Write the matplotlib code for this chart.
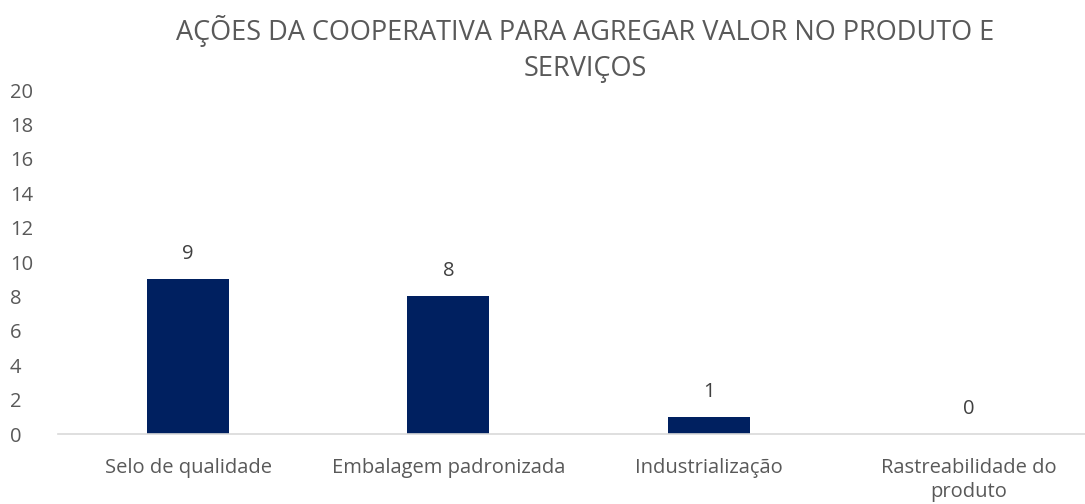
import matplotlib.pyplot as plt
import numpy as np

plt.rcParams['font.family'] = ['Open Sans', 'DejaVu Sans']

# data
categories = ['Selo de qualidade', 'Embalagem padronizada', 'Industrialização',
              'Rastreabilidade do\nproduto']
values = [9, 8, 1, 0]
title = 'AÇÕES DA COOPERATIVA PARA AGREGAR VALOR NO PRODUTO E\nSERVIÇOS'

gray = '#595959'
navy = '#002060'

fig = plt.figure(figsize=(10.85, 5.04), dpi=100)
ax = fig.add_axes([58 / 1085, 70 / 504, 1041 / 1085, 344 / 504])

x = np.arange(len(categories))
bars = ax.bar(x, values, width=0.315, color=navy, zorder=2)

for xi, v in zip(x, values):
    ax.annotate(str(v), (xi, v), xytext=(0, 11), textcoords='offset points',
                ha='center', va='bottom', fontsize=14.5, color='#404040')

ax.set_xlim(-0.5, len(categories) - 0.5)
ax.set_ylim(0, 20)
ax.set_yticks(range(0, 21, 2))
ax.set_xticks(x)
ax.set_xticklabels(categories, fontsize=14.5, color=gray, linespacing=1.3)
ax.tick_params(axis='y', labelsize=14.5, labelcolor=gray, length=0, pad=34.5)
ax.tick_params(axis='x', length=0, pad=17)

for s in ['top', 'right', 'left']:
    ax.spines[s].set_visible(False)
ax.spines['bottom'].set_color('#d9d9d9')
ax.spines['bottom'].set_linewidth(1.2)

for lbl in ax.get_yticklabels():
    lbl.set_horizontalalignment('left')

fig.text(0.539, 0.903, title, ha='center', va='center', fontsize=19.5,
         color=gray, linespacing=1.4)

fig.savefig('out.png', dpi=100)
